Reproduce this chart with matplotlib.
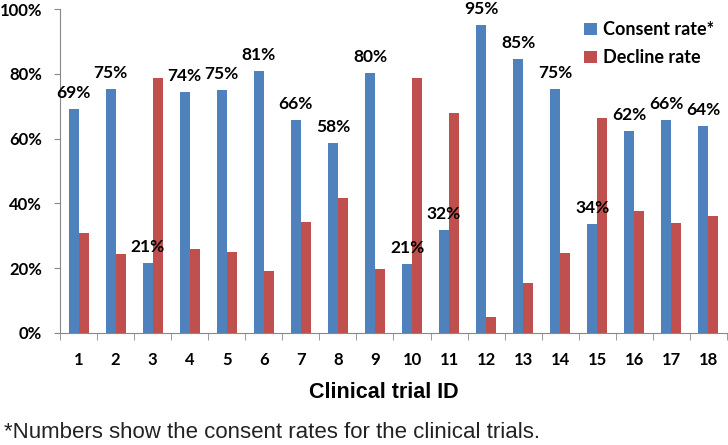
import numpy as np
import matplotlib
matplotlib.use("Agg")
import matplotlib.pyplot as plt
from matplotlib.ticker import FixedLocator, FuncFormatter

# Consent vs decline rate per clinical trial
trial_ids = [str(i) for i in range(1, 19)]
consent_rate = [69.1, 75.3, 21.5, 74.3, 75.0, 80.8, 65.8, 58.5, 80.2, 21.3, 31.9, 95.0, 84.5, 75.3, 33.5, 62.2, 65.8, 64.0]
decline_rate = [30.8, 24.5, 78.7, 26.0, 24.9, 19.1, 34.2, 41.8, 19.9, 78.7, 68.0, 4.8, 15.4, 24.6, 66.3, 37.6, 34.0, 36.2]
consent_labels = ['69%', '75%', '21%', '74%', '75%', '81%', '66%', '58%', '80%', '21%', '32%', '95%', '85%', '75%', '34%', '62%', '66%', '64%']

blue = '#4F81BD'
red = '#C0504D'
bold_font = ['Lato', 'DejaVu Sans']
narrow_font = ['Liberation Sans', 'DejaVu Sans']

fig = plt.figure(figsize=(7.28, 4.45), dpi=100)
ax = fig.add_axes([0.0824, 0.2517, 0.9162, 0.7280])

x = np.arange(len(trial_ids))
w = 0.27
ax.bar(x - w/2, consent_rate, width=w, color=blue, label='Consent rate*')
ax.bar(x + w/2, decline_rate, width=w, color=red, label='Decline rate')

for xi, v, lab in zip(x, consent_rate, consent_labels):
    ax.annotate(lab, (xi - w/2, v), xytext=(0, 8), textcoords='offset points',
                ha='center', va='baseline', fontsize=12.5, fontweight='bold', family=bold_font)

ax.set_xlim(-0.5, len(trial_ids) - 0.5)
ax.set_ylim(0, 100)
ax.set_yticks(np.arange(0, 101, 20))
ax.yaxis.set_major_formatter(FuncFormatter(lambda v, _: f'{int(v)}%'))
ax.set_xticks(x)
ax.set_xticklabels(trial_ids)
ax.xaxis.set_minor_locator(FixedLocator(np.arange(-0.5, len(trial_ids), 1.0)))
ax.tick_params(axis='x', which='major', length=0, pad=14)
ax.tick_params(axis='x', which='minor', length=5, color='#888888', direction='out')
ax.tick_params(axis='y', length=4, color='#888888', pad=9)
for lbl in ax.get_xticklabels() + ax.get_yticklabels():
    lbl.set_fontweight('bold')
    lbl.set_fontsize(12)
    lbl.set_family(bold_font)

for s in ['top', 'right']:
    ax.spines[s].set_visible(False)
for s in ['left', 'bottom']:
    ax.spines[s].set_color('#888888')

ax.legend(loc='upper right', bbox_to_anchor=(1.005, 1.012), frameon=False,
          handlelength=0.7, handleheight=0.7, handletextpad=0.35, labelspacing=0.6,
          prop={'family': bold_font, 'size': 13, 'weight': 'bold'})

fig.text(0.527, 0.117, 'Clinical trial ID', ha='center', va='center', fontsize=15.5, fontweight='bold', family=narrow_font)
fig.text(0.006, 0.028, '*Numbers show the consent rates for the clinical trials.', ha='left', va='center', fontsize=16, family=narrow_font, color='#222222')

fig.savefig('out.png', dpi=100)
